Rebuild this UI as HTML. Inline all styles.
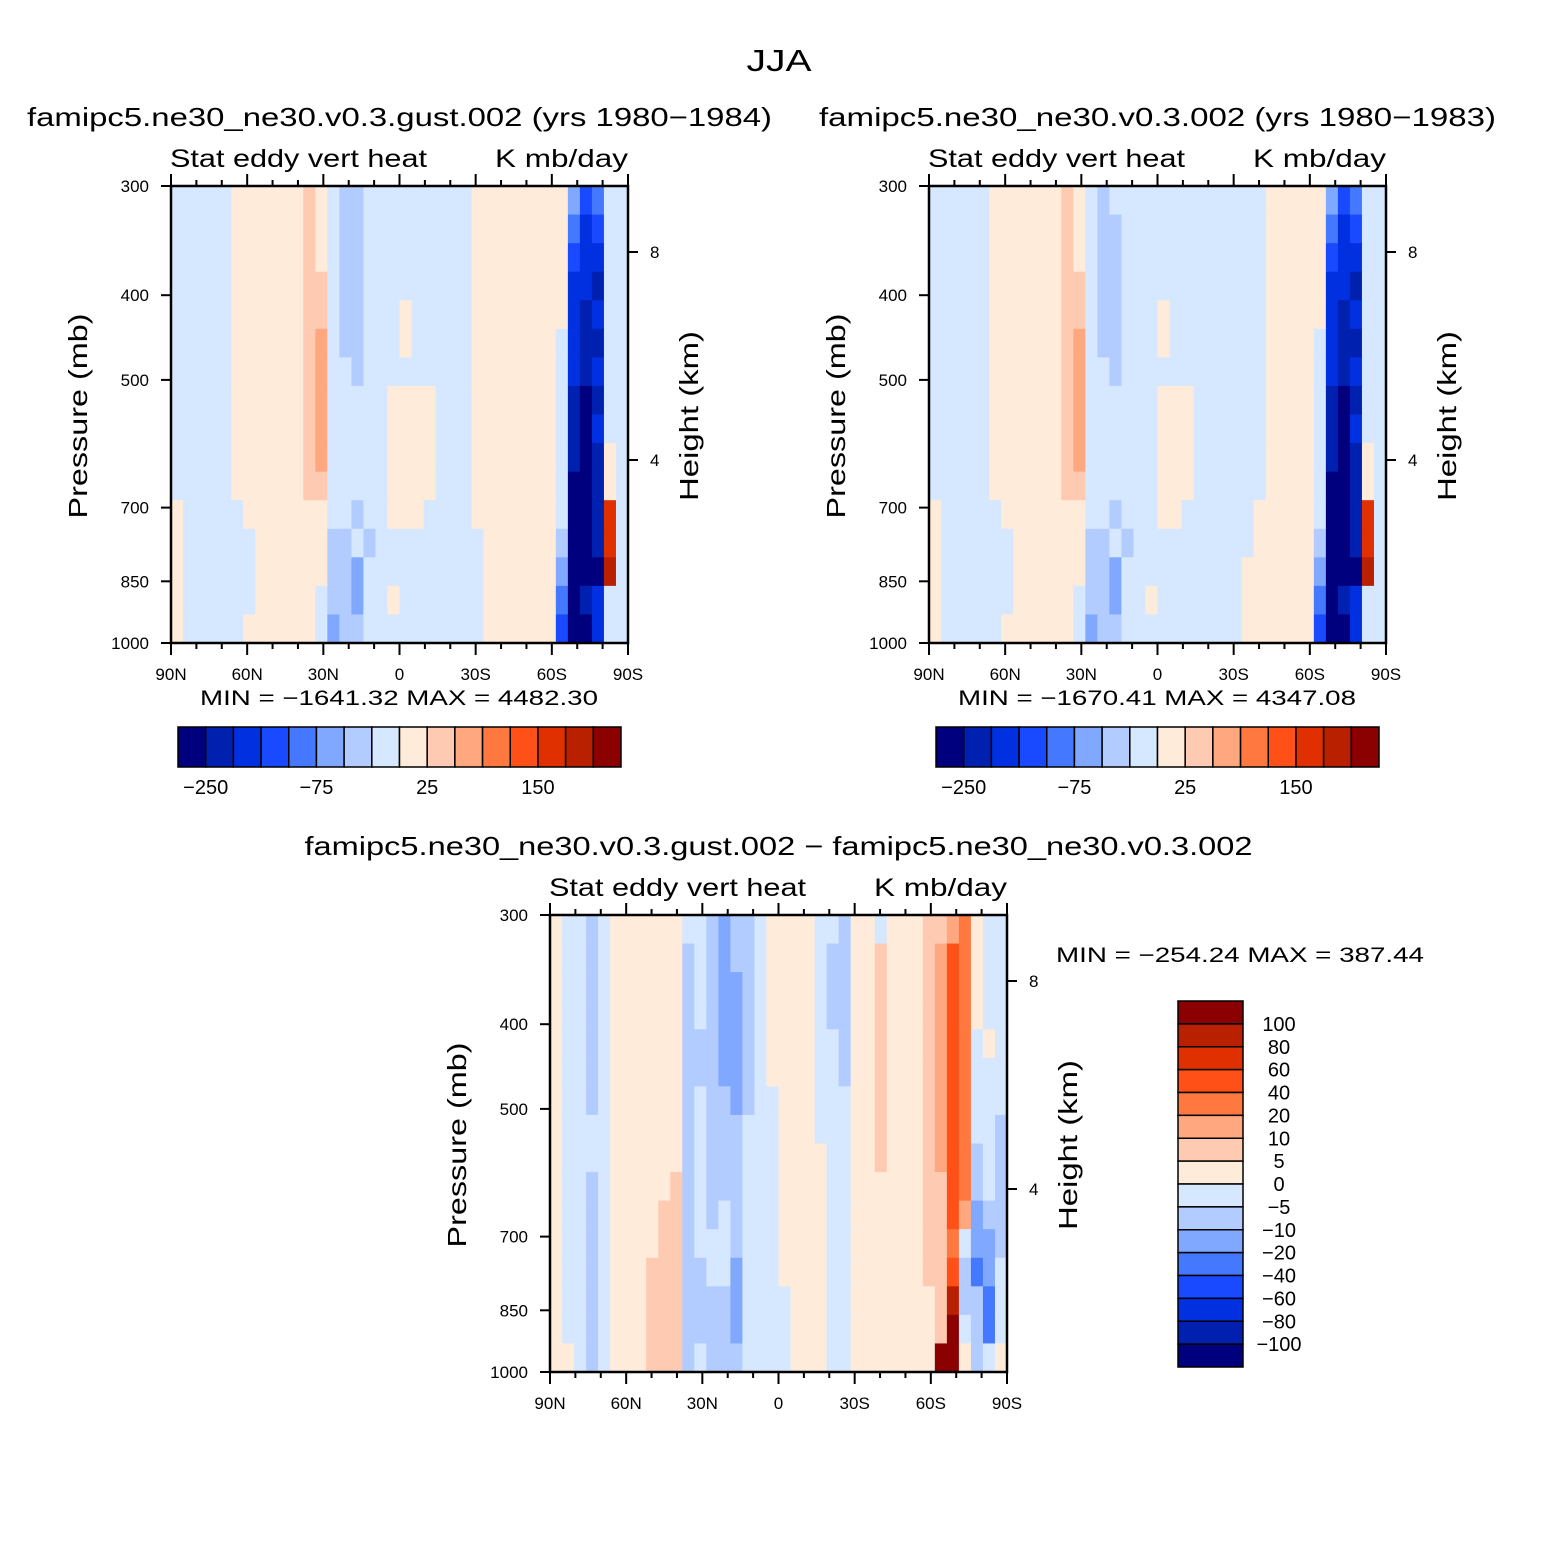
<!DOCTYPE html>
<html><head><meta charset="utf-8">
<style>
html,body{margin:0;padding:0;background:#fff;}
svg{display:block;font-family:"Liberation Sans",sans-serif;}
</style></head>
<body>
<svg id="fig" width="1558" height="1558" viewBox="0 0 1558 1558">
<rect width="1558" height="1558" fill="#fff"/>
<text x="779" y="71" text-anchor="middle" font-size="31" textLength="65" lengthAdjust="spacingAndGlyphs">JJA</text>
</svg>
<script>
const palette=["#00007f","#0020b0","#0030e0","#1a4aff","#4478ff","#80a8ff","#b3ccff","#d6e8ff","#ffebd9","#ffcab2","#ffa880","#ff7840","#ff5018","#e03000","#b82000","#8b0000"];
const xTickLabels=["90N","60N","30N","0","30S","60S","90S"];
const pTicks=[300,400,500,700,850,1000];
const hTicks=[8,4];
const levels1=["-250","-75","25","150"];
const levels3=["100","80","60","40","20","10","5","0","-5","-10","-20","-40","-60","-80","-100"];
const grid1=[
"77777 888888 98 7667 77777777 8888888 853477",
"77777 888888 98 7667 77777777 8888888 842377",
"77777 888888 98 7667 77777777 8888888 832277",
"77777 888888 99 7667 77777777 8888888 822177",
"77777 888888 99 7667 77877777 8888888 821277",
"77777 888888 9a 7667 77877777 8888888 721177",
"77777 888888 9a 7767 77777777 8888888 721277",
"77777 888888 9a 7777 78888777 8888888 710177",
"77777 888888 9a 7777 78888777 8888888 710277",
"77777 888888 9a 7777 78888777 8888888 710187",
"77777 888888 99 7777 78888777 8888888 700187",
"87777 788888 88 7767 78887777 8888888 7001d7",
"87777 778888 88 6676 77777777 7888888 6001d7",
"87777 778888 88 6657 77777777 7888888 5000e7",
"87777 778888 87 6657 78777777 7888888 401277",
"87777 788888 87 5667 77777777 7888888 300277"];
const grid2=[
"77777 888888 98 7677 77777777 7778888 853477",
"77777 888888 98 7667 77777777 7778888 842377",
"77777 888888 98 7667 77777777 7778888 832277",
"77777 888888 99 7667 77777777 7778888 822177",
"77777 888888 99 7667 77877777 7778888 821277",
"77777 888888 9a 7667 77877777 7778888 721177",
"77777 888888 9a 7767 77777777 7778888 721277",
"77777 888888 9a 7777 77888777 7778888 710177",
"77777 888888 9a 7777 77888777 7778888 710277",
"77777 888888 9a 7777 77888777 7778888 710187",
"77777 888888 99 7777 77888777 7778888 700187",
"87777 788888 88 7767 77887777 7788888 7001d7",
"87777 778888 88 6676 77777777 7788888 6001d7",
"87777 778888 88 6657 77777777 7888888 5000e7",
"87777 778888 87 6657 78777777 7888888 401277",
"87777 788888 87 5667 77777777 7888888 300277"];
const grid3=[
"87767 888888 77 6566 78888776 8878889 9ab877",
"87767 888888 67 6566 78888766 8898889 acb877",
"87767 888888 67 6556 78888766 8898889 acb877",
"87767 888888 67 6556 78888766 8898889 acb877",
"87767 888888 66 6556 78888776 8898889 acb787",
"87767 888888 66 6556 78888776 8898889 acb777",
"87767 888888 67 6656 77888777 8898889 acb777",
"87777 888888 67 6667 77888777 8898889 acb776",
"87777 888888 67 6667 77888877 8898889 acb676",
"87767 888889 67 6667 77888877 8888889 9cb676",
"87767 888899 67 6767 77888877 8888889 9ca566",
"87767 888899 67 7767 77888877 8888889 9b7556",
"87767 888999 66 7757 77888877 8888889 9c6457",
"87767 888999 66 6657 77788877 8888888 9e6647",
"87767 888999 66 6657 77788877 8888888 9f7647",
"88767 888999 67 6667 77788877 8888888 ff8678"];
const svg=document.getElementById('fig');
const NS="http://www.w3.org/2000/svg";
function mk(tag,attrs,parent){const e=document.createElementNS(NS,tag);for(const k in attrs)e.setAttribute(k,attrs[k]);(parent||svg).appendChild(e);return e;}
function txt(x,y,s,size,anchor,parent,len){const a={x:x,y:y,'font-size':size,'text-anchor':anchor||'middle'};if(len){a.textLength=len;a.lengthAdjust='spacingAndGlyphs';}const t=mk('text',a,parent);t.textContent=s;return t;}

function drawPanel(ox,oy,grid,title,titleLen,name){
  const W=457,H=457;
  const g=mk('g',{});
  
  
  const nr=grid.length;
  const xs=c=>ox+c*W/38;
  const ys=r=>oy+r*H/nr;
  for(let r=0;r<nr;r++){
    const row=grid[r].replace(/ /g,'');
    for(let c=0;c<38;c++){
      const ch=row[c]||'7';
      const idx=parseInt(ch,16);
      const cell=mk('rect',{x:xs(c),y:ys(r),width:W/38+0.6,height:H/nr+0.6,fill:palette[idx]},g);
      
      
    }
  }
  const frame=mk('rect',{x:ox,y:oy,width:W,height:H,fill:'none',stroke:'#000','stroke-width':2.5},g);
  
  
  const latX=lat=>ox+(90-lat)/180*W;
  for(let lat=90;lat>=-90;lat-=10){
    const major=lat%30===0;const L=major?12:6;const x=latX(lat);
    mk('line',{x1:x,y1:oy+H,x2:x,y2:oy+H+L,stroke:'#000','stroke-width':2},g);
    mk('line',{x1:x,y1:oy,x2:x,y2:oy-L,stroke:'#000','stroke-width':2},g);
  }
  xTickLabels.forEach((s,i)=>{const t=txt(latX(90-30*i),oy+H+37,s,17,'middle',g);
    });
  const pY=p=>oy+Math.log(p/300)/Math.log(1000/300)*H;
  pTicks.forEach(p=>{const y=pY(p);
    mk('line',{x1:ox,y1:y,x2:ox-10,y2:y,stroke:'#000','stroke-width':2},g);
    const t=txt(ox-22,y+6,String(p),17,'end',g);
    });
  const hY=h=>oy+66+(8-h)*52;
  hTicks.forEach(h=>{const y=hY(h);
    mk('line',{x1:ox+W,y1:y,x2:ox+W+10,y2:y,stroke:'#000','stroke-width':2},g);
    const t=txt(ox+W+22,y+6,String(h),17,'start',g);
    });
  const t1=txt(ox+W/2,oy-60,title,26,'middle',g,titleLen);
  const t2=txt(ox-1,oy-19,'Stat eddy vert heat',25,'start',g,257);
  const t3=txt(ox+W,oy-19,'K mb/day',25,'end',g,133);
  const yl=txt(0,0,'Pressure (mb)',26,'middle',g,205);yl.setAttribute('transform',`translate(${ox-84},${oy+230}) rotate(-90)`);
  
  const hl=txt(0,0,'Height (km)',26,'middle',g,170);hl.setAttribute('transform',`translate(${ox+W+70},${oy+230}) rotate(-90)`);
  
  return g;
}
function hbar(ox,oy,minmax){
  const g=mk('g',{});
  
  
  const w=443/16;
  palette.forEach((c,i)=>{const r=mk('rect',{x:ox+i*w,y:oy,width:w,height:40,fill:c,stroke:'#000','stroke-width':1.5},g);
    });
  levels1.forEach((s,i)=>{const t=txt(ox+(1+4*i)*w,oy+67,s.replace('-','\u2212'),20,'middle',g);
    });
  const m=txt(ox+221,oy-22,minmax,21,'middle',g,398);
}
drawPanel(171,186,grid1,'famipc5.ne30_ne30.v0.3.gust.002 (yrs 1980\u22121984)',745,'panel-gust');
hbar(178,727,'MIN = \u22121641.32   MAX = 4482.30');
drawPanel(929,186,grid2,'famipc5.ne30_ne30.v0.3.002 (yrs 1980\u22121983)',677,'panel-control');
hbar(936,727,'MIN = \u22121670.41   MAX = 4347.08');
drawPanel(550,915,grid3,'famipc5.ne30_ne30.v0.3.gust.002 \u2212 famipc5.ne30_ne30.v0.3.002',948,'panel-difference');
(function(){
  const g=mk('g',{});
  
  
  const ox=1178,oy=1001,h=366/16;
  for(let i=0;i<16;i++){const r=mk('rect',{x:ox,y:oy+i*h,width:65,height:h,fill:palette[15-i],stroke:'#000','stroke-width':1.5},g);
    }
  levels3.forEach((s,i)=>{const t=txt(1279,oy+(i+1)*h+7,s.replace('-','\u2212'),20,'middle',g);
    });
  const m=txt(1240,962,'MIN = \u2212254.24   MAX = 387.44',21,'middle',g,368);
  
})();
</script>
</body></html>
